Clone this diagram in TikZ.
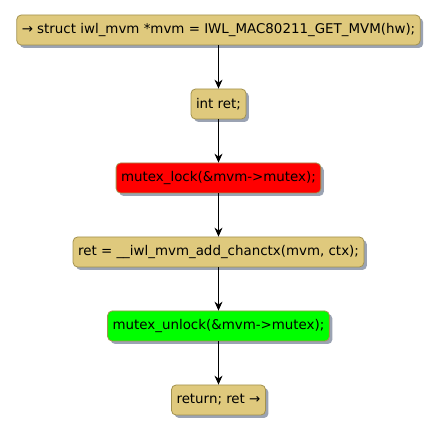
\documentclass[tikz,border=0pt]{standalone}
\usepackage{fontspec}
\setmainfont{DejaVu Sans}
\usetikzlibrary{arrows.meta,shadows}
\definecolor{actfill}{HTML}{DFC97D}
\definecolor{actborder}{HTML}{A3924F}
\definecolor{shadowc}{HTML}{9BA3B3}
\tikzset{
  act/.style={draw=actborder, line width=0.8pt, fill=actfill, rounded corners=4.5pt,
    minimum height=30pt, inner xsep=5pt, inner ysep=0pt, font=\fontsize{13.4}{15}\selectfont,
    drop shadow={shadow xshift=3pt, shadow yshift=-3pt, fill=shadowc, opacity=1}},
  flow/.style={-{Stealth[length=9pt,width=8pt,inset=3pt]}, line width=0.8pt, black}
}
\begin{document}
\begin{tikzpicture}[x=1pt,y=-1pt]
\useasboundingbox (0,0) rectangle (440,433);
\node[act] (n1) at (218.5,30) {→ struct iwl\_mvm *mvm = IWL\_MAC80211\_GET\_MVM(hw);};
\node[act] (n2) at (218.5,104) {int ret;};
\node[act, fill=red] (n3) at (218.5,178) {mutex\_lock(\&mvm->mutex);};
\node[act] (n4) at (218.5,252) {ret = \_\_iwl\_mvm\_add\_chanctx(mvm, ctx);};
\node[act, fill={rgb,255:red,0;green,255;blue,0}] (n5) at (218.5,326) {mutex\_unlock(\&mvm->mutex);};
\node[act] (n6) at (218.5,400) {return; ret →};
\draw[flow] (n1) -- (n2);
\draw[flow] (n2) -- (n3);
\draw[flow] (n3) -- (n4);
\draw[flow] (n4) -- (n5);
\draw[flow] (n5) -- (n6);
\end{tikzpicture}
\end{document}
